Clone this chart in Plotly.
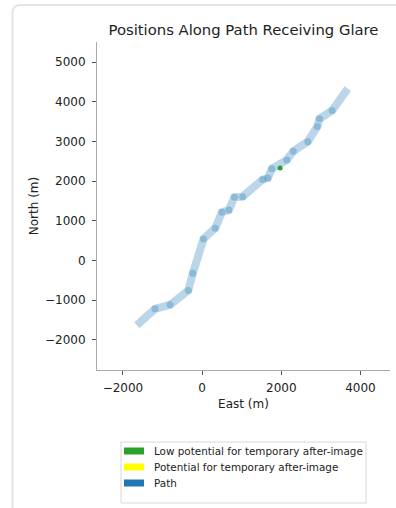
import plotly.graph_objects as go

# ---- data ----
path_east = [-1650, -1190, -810, -350, -235, 35, 330, 500, 675, 815, 1025,
             1530, 1660, 1760, 2140, 2305, 2670, 2910, 2965, 3285, 3680]
path_north = [-1630, -1215, -1115, -755, -320, 545, 815, 1215, 1275, 1595, 1610,
              2040, 2080, 2310, 2535, 2755, 2995, 3375, 3570, 3780, 4330]
glare_low_east = [1970]
glare_low_north = [2328]
legend_labels = ["Low potential for temporary after-image",
                 "Potential for temporary after-image",
                 "Path"]
legend_colors = ["#2ca02c", "#ffff00", "#1f77b4"]
x_ticks = [-2000, 0, 2000, 4000]
y_ticks = [-2000, -1000, 0, 1000, 2000, 3000, 4000, 5000]

W, H = 396, 508
L, R, T, B = 97, 6, 42, 138
pw, ph = W - L - R, H - T - B
FONT = "DejaVu Sans"


def px(x):
    return (x - L) / pw


def py(y):
    return (H - B - y) / ph


fig = go.Figure()
fig.add_trace(go.Scatter(x=path_east, y=path_north, mode="lines",
                         line=dict(color="rgba(31,119,180,0.3)", width=8),
                         hoverinfo="skip", showlegend=False))
fig.add_trace(go.Scatter(x=path_east[1:-1], y=path_north[1:-1], mode="markers",
                         marker=dict(color="rgba(31,119,180,0.3)", size=7),
                         showlegend=False))
fig.add_trace(go.Scatter(x=glare_low_east, y=glare_low_north, mode="markers",
                         marker=dict(color="#2ca02c", size=5),
                         showlegend=False))

axis_common = dict(showgrid=False, zeroline=False, showline=True,
                   linecolor="#aaaaaa", linewidth=1, ticks="outside",
                   ticklen=4, tickcolor="#555555",
                   tickfont=dict(family=FONT, size=12, color="#222222"),
                   title_font=dict(family=FONT, size=12, color="#222222"),
                   mirror=False)
fig.update_xaxes(range=[-2656, 4747], tickvals=x_ticks, title_text="East (m)",
                 ticklabelstandoff=3, title_standoff=5, **axis_common)
fig.update_yaxes(range=[-2756, 5504], tickvals=y_ticks, title_text="North (m)",
                 ticklabelstandoff=4, title_standoff=3, **axis_common)

shapes = []
# card border
r = 8
shapes.append(dict(type="path", xref="paper", yref="paper",
                   path=(f"M {px(12.5)},{py(H + 10)} L {px(12.5)},{py(5 + r)} "
                         f"Q {px(12.5)},{py(5)} {px(12.5 + r)},{py(5)} "
                         f"L {px(W + 10)},{py(5)}"),
                   line=dict(color="#e4e4e4", width=2)))
# legend box
shapes.append(dict(type="rect", xref="paper", yref="paper",
                   x0=px(121), x1=px(366), y0=py(503), y1=py(442),
                   line=dict(color="#d8d8d8", width=1), fillcolor="white"))
annotations = []
for i, (lab, col) in enumerate(zip(legend_labels, legend_colors)):
    cy = 451 + 16 * i
    shapes.append(dict(type="rect", xref="paper", yref="paper",
                       x0=px(124), x1=px(144), y0=py(cy + 3.5), y1=py(cy - 3.5),
                       line=dict(width=0), fillcolor=col))
    annotations.append(dict(x=px(152), y=py(cy), xref="paper", yref="paper",
                            text=lab, showarrow=False, xanchor="left",
                            yanchor="middle",
                            font=dict(family=FONT, size=10.4, color="#222222")))

fig.update_layout(
    width=W, height=H,
    margin=dict(l=L, r=R, t=T, b=B),
    paper_bgcolor="white", plot_bgcolor="white",
    title=dict(text="Positions Along Path Receiving Glare", xref="paper",
               x=px(243.5), xanchor="center", yref="container",
               y=1 - 30 / H, yanchor="middle",
               font=dict(family=FONT, size=14.8, color="#222222")),
    shapes=shapes, annotations=annotations, showlegend=False,
)
fig.write_html("out.html", config={"displayModeBar": False},
               post_script="document.body.style.margin='0';document.body.style.overflow='hidden';")
